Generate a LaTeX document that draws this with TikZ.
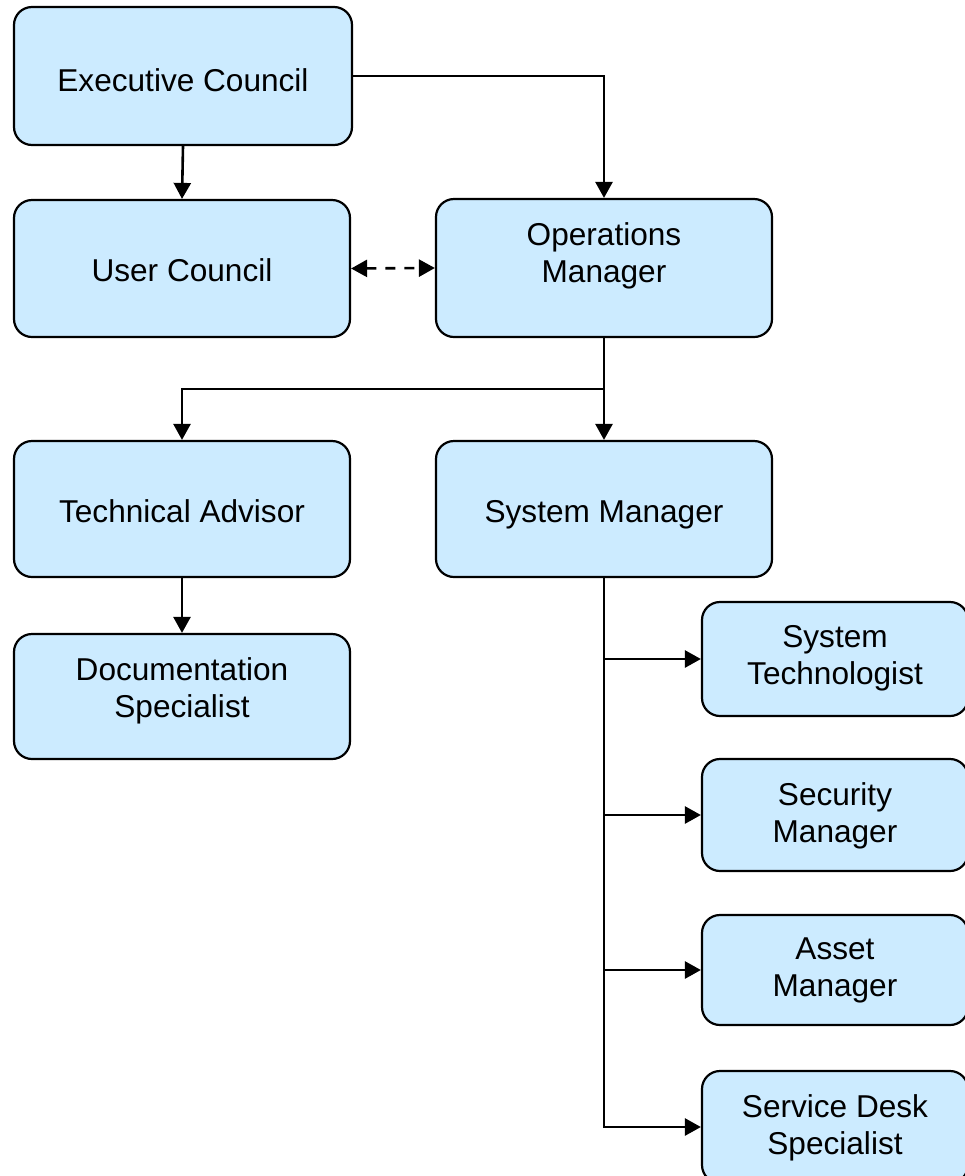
\documentclass[tikz,border=0pt]{standalone}
\usepackage{fontspec}
\setmainfont{Liberation Sans}
\usetikzlibrary{arrows.meta,calc}
\definecolor{boxblue}{RGB}{204,235,255}
\tikzset{
  box/.style={draw=black, line width=2.2pt, fill=boxblue, rounded corners=18pt,
    inner sep=0pt, minimum width=336pt, minimum height=137pt},
  smallbox/.style={box, minimum width=266pt, minimum height=112pt},
  txt/.style={font=\fontsize{31.6}{37}\selectfont, align=center, inner sep=0pt, text=black},
  conn/.style={line width=2.6pt, draw=black, -{Triangle[length=16pt,width=17pt]}},
  dconn/.style={line width=2.6pt, draw=black, dash pattern=on 10pt off 9pt,
    {Triangle[length=16pt,width=17pt]}-{Triangle[length=16pt,width=17pt]}}
}
\begin{document}
\begin{tikzpicture}[x=1pt,y=-1pt]
\useasboundingbox (0,0) rectangle (965,1176);
% boxes
\node[box, minimum width=338pt, minimum height=138pt] (exec) at (183,76) {};
\node[box] (user) at (182,268.5) {};
\node[box, minimum height=138pt] (ops) at (604,268) {};
\node[box, minimum height=136pt] (tech) at (182,509) {};
\node[box, minimum height=136pt] (sysm) at (604,509) {};
\node[box, minimum height=125pt] (doc) at (182,696.5) {};
\node[smallbox, minimum height=114pt] (systech) at (835,659) {};
\node[smallbox] (sec) at (835,815) {};
\node[smallbox, minimum height=110pt] (asset) at (835,970) {};
\node[smallbox] (serv) at (835,1127) {};
% texts
\node[txt, anchor=base] (exec-t) at ([yshift=-15pt]exec.center) {Executive Council};
\node[txt, anchor=base] (user-t) at ([yshift=-13pt]user.center) {User Council};
\node[txt, anchor=north] (ops-t) at ([yshift=-24pt]ops.north) {Operations\\Manager};
\node[txt, anchor=base] (tech-t) at ([yshift=-13pt]tech.center) {Technical Advisor};
\node[txt, anchor=base] (sysm-t) at ([yshift=-13pt]sysm.center) {System Manager};
\node[txt, anchor=north] (doc-t) at ([yshift=-24pt]doc.north) {Documentation\\Specialist};
\node[txt, anchor=north] (systech-t) at ([yshift=-24pt]systech.north) {System\\Technologist};
\node[txt, anchor=north] (sec-t) at ([yshift=-24pt]sec.north) {Security\\Manager};
\node[txt, anchor=north] (asset-t) at ([yshift=-24pt]asset.north) {Asset\\Manager};
\node[txt, anchor=north] (serv-t) at ([yshift=-24pt]serv.north) {Service Desk\\Specialist};
% connectors
\draw[conn] (exec.south) -- (user.north);
\draw[conn] (exec.east) -| (ops.north);
\draw[dconn] (user.east) -- (ops.west);
\coordinate (br) at (604,389);
\draw[conn] (ops.south) -- (sysm.north);
\draw[conn] (br) -| (tech.north);
\draw[conn] (tech.south) -- (doc.north);
\draw[conn] (sysm.south) |- (systech.west);
\draw[conn] (sysm.south) |- (sec.west);
\draw[conn] (sysm.south) |- (asset.west);
\draw[conn] (sysm.south) |- (serv.west);
\end{tikzpicture}
\end{document}
